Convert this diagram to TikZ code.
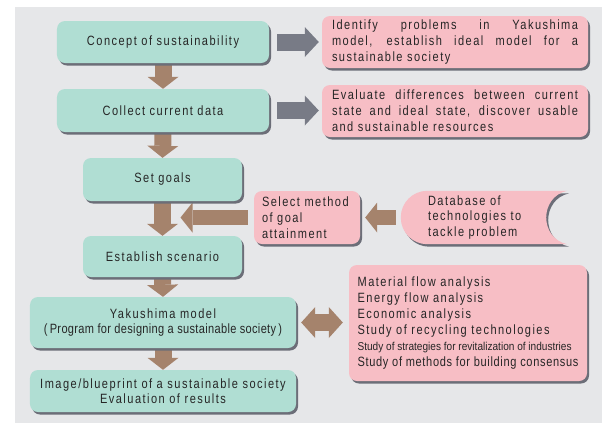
\documentclass[tikz,border=0pt]{standalone}
\usepackage{fontspec}
\setmainfont{Liberation Sans}[FakeStretch=0.82,LetterSpace=11]
\usetikzlibrary{calc,shapes,positioning,arrows.meta,shadows}

\definecolor{panel}{RGB}{230,231,233}
\definecolor{mint}{RGB}{176,222,211}
\definecolor{rose}{RGB}{247,190,197}
\definecolor{clay}{RGB}{165,131,108}
\definecolor{slate}{RGB}{120,123,134}
\definecolor{shadecol}{RGB}{108,110,120}
\definecolor{ink}{RGB}{38,38,38}

\pgfdeclarelayer{back}
\pgfdeclarelayer{mid}
\pgfsetlayers{back,mid,main}

\begin{document}
\begin{tikzpicture}[x=1bp,y=-1bp,
  casts/.style={drop shadow={shadow xshift=2bp,shadow yshift=-2.5bp,fill=shadecol,opacity=1}},
  plain/.style={rounded corners=8bp,inner sep=0pt,text=ink,font=\fontsize{13.5}{16}\selectfont},
  box/.style={plain,casts},
  mintbox/.style={box,fill=mint,align=center},
  rosebox/.style={box,fill=rose},
  fat/.style={line width=#1},
  downarrow/.style={draw=clay,fat=17bp,-{Triangle[line width=0pt,length=12bp,width=31bp]}},
  sidearrow/.style={draw=slate,fat=17bp,-{Triangle[line width=0pt,length=14bp,width=30bp]}},
  backarrow/.style={draw=clay,fat=15bp,-{Triangle[line width=0pt,length=12bp,width=30bp]}},
  bothways/.style={draw=clay,fat=17bp,{Triangle[line width=0pt,length=14bp,width=31bp]}-{Triangle[line width=0pt,length=14bp,width=31bp]}}]
\useasboundingbox (0,0) rectangle (602,432);
\begin{pgfonlayer}{back}
  \fill[panel] (15,7) rectangle (602,423);
\end{pgfonlayer}

% main column
\node[mintbox,minimum width=212bp,minimum height=42bp] (concept) at (163,42) {Concept of sustainability};
\node[mintbox,minimum width=212bp,minimum height=43bp] (collect) at (163,110.5) {Collect current data};
\node[mintbox,minimum width=159bp,minimum height=43bp] (goals) at (162.5,179.5) {Set goals};
\node[mintbox,minimum width=159bp,minimum height=41bp] (scenario) at (162.5,256.5) {Establish scenario};
\node[mintbox,minimum width=266bp,minimum height=51bp] (model) at (163,322.5)
  {Yakushima model\\{\addfontfeatures{LetterSpace=2.5}(\,Program for designing a sustainable society\,)}};
\node[mintbox,minimum width=266bp,minimum height=42bp,font=\fontsize{13.5}{15}\selectfont] (result) at (163,391)
  {Image/blueprint of a sustainable society\\Evaluation of results};

% side boxes
\node[rosebox,minimum width=266bp,minimum height=52bp,text width=246bp,align=justify] (ideal) at (455,42)
  {Identify problems in Yakushima\linebreak model, establish ideal model for a\linebreak sustainable society};
\node[rosebox,minimum width=266bp,minimum height=52bp,text width=246bp,align=justify] (evaluate) at (455,111)
  {Evaluate differences between current\linebreak state and ideal state, discover usable\linebreak and sustainable resources};
\node[rosebox,minimum width=106bp,minimum height=53bp,text width=90bp,align=left] (method) at (307,217.5)
  {Select method\\of goal\\attainment};
\node[plain,minimum width=166bp,minimum height=53bp,text width=112bp,align=left] (database) at (484,217.5)
  {Database of\\technologies to\\tackle problem};
\node[rosebox,minimum width=238bp,minimum height=116bp,align=left] (analysis) at (468,323)
  {Material flow analysis\\
   Energy flow analysis\\
   Economic analysis\\
   Study of recycling technologies\\
   {\fontsize{11.5}{16}\selectfont\addfontfeatures{LetterSpace=0,FakeStretch=0.88}Study of strategies for revitalization of industries}\\
   {\addfontfeatures{LetterSpace=5}Study of methods for building consensus}};

\coordinate (join) at (goals.south |- method.west);

\begin{pgfonlayer}{mid}
  % database outline, round on the left, hollowed on the right
  \path[fill=rose,casts] (database.north east) [rounded corners=26.5bp] -- (database.north west)
    -- (database.south west) [sharp corners] -- (database.south east)
    .. controls +(-28,-6) and +(-28,6) .. (database.north east) -- cycle;
  \draw[downarrow] (concept.south) -- (collect.north);
  \draw[downarrow] (collect.south) -- (goals.north);
  \draw[downarrow] (goals.south) -- (scenario.north);
  \draw[downarrow] (scenario.south) -- (model.north);
  \draw[downarrow] (model.south) -- (result.north);
  \draw[sidearrow,shorten <=8bp,shorten >=3bp] (concept.east) -- (concept.east -| ideal.west);
  \draw[sidearrow,shorten <=8bp,shorten >=3bp] (collect.east) -- (collect.east -| evaluate.west);
  \draw[backarrow,shorten <=6bp,shorten >=18bp] (method.west) -- (join);
  \draw[backarrow,shorten <=5bp,shorten >=5bp] (database.west) -- (method.east);
  \draw[bothways,shorten <=5bp,shorten >=6bp] (model.east) -- (model.east -| analysis.west);
\end{pgfonlayer}
\end{tikzpicture}
\end{document}
